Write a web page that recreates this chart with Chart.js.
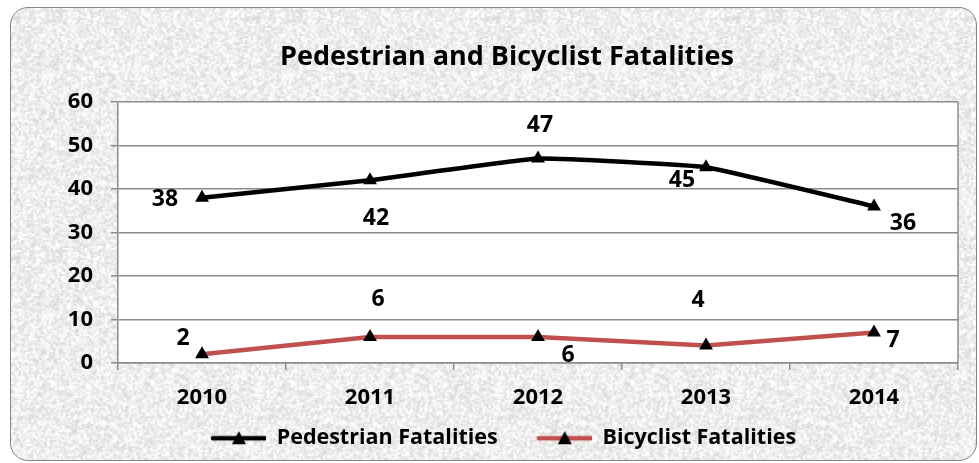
<!DOCTYPE html>
<html>
<head>
<meta charset="utf-8">
<script src="https://cdn.jsdelivr.net/npm/chart.js@4"></script>
<style>
  html, body { margin: 0; padding: 0; background: #fff; }
  #wrap { position: relative; width: 979px; height: 463px; overflow: hidden; }
  #frame { position: absolute; left: 10px; top: 7px; width: 965px; height: 452px;
           border: 1.5px solid #858585; border-radius: 18px; background-color: #e8e8e8; }
  #chart { position: absolute; left: 0; top: 0; }
</style>
</head>
<body>
<div id="wrap">
  <div id="frame"></div>
  <canvas id="chart" width="979" height="463"></canvas>
</div>
<script>
// values
var years = ['2010', '2011', '2012', '2013', '2014'];
var pedestrian = [38, 42, 47, 45, 36];
var bicyclist = [2, 6, 6, 4, 7];
var yTicks = [0, 10, 20, 30, 40, 50, 60];
var chartTitle = 'Pedestrian and Bicyclist Fatalities';

// label placement (pixels from the point), styling only
var pedOffsets = [[-37, 2], [6, 38], [2, -33], [-24, 13], [29, 17]];
var bicOffsets = [[-19, -16], [8, -37], [30, 19], [-8, -45], [19, 8]];

var FONT = '"Open Sans"';
var axisGrey = '#8c8c8c';

// granite-like texture for the frame (deterministic hash noise)
function hash(x, y) {
  var h = (x * 374761393 + y * 668265263) | 0;
  h = (h ^ (h >>> 13)) * 1274126177 | 0;
  return ((h ^ (h >>> 16)) >>> 0) / 4294967295;
}
function makeTexture() {
  var N = 120;
  var small = document.createElement('canvas');
  small.width = N; small.height = N;
  var sc = small.getContext('2d');
  var img = sc.createImageData(N, N);
  for (var y = 0; y < N; y++) {
    for (var x = 0; x < N; x++) {
      var v = 210 + hash(x, y) * 44;
      var i = (y * N + x) * 4;
      img.data[i] = img.data[i + 1] = img.data[i + 2] = v;
      img.data[i + 3] = 255;
    }
  }
  sc.putImageData(img, 0, 0);
  var M = N * 2;
  var big = document.createElement('canvas');
  big.width = M; big.height = M;
  var bc = big.getContext('2d');
  bc.imageSmoothingEnabled = true;
  bc.drawImage(small, 0, 0, M, M);
  var img2 = bc.getImageData(0, 0, M, M);
  for (var yy = 0; yy < M; yy++) {
    for (var xx = 0; xx < M; xx++) {
      var j = (yy * M + xx) * 4;
      var n = (hash(xx + 1000, yy + 777) - 0.5) * 16;
      var c = Math.min(255, img2.data[j] + n + 6);
      img2.data[j] = img2.data[j + 1] = img2.data[j + 2] = c;
    }
  }
  bc.putImageData(img2, 0, 0);
  return big.toDataURL();
}
document.getElementById('frame').style.backgroundImage = 'url(' + makeTexture() + ')';

// legend swatch: blank on the left acts as the gap between items
function legendIcon(color) {
  var c = document.createElement('canvas');
  c.width = 86; c.height = 18;
  var g = c.getContext('2d');
  g.strokeStyle = color;
  g.lineWidth = 4.5;
  g.lineCap = 'round';
  g.beginPath(); g.moveTo(33, 9); g.lineTo(85, 9); g.stroke();
  g.fillStyle = '#000';
  g.beginPath(); g.moveTo(59, 2); g.lineTo(66, 15); g.lineTo(52, 15); g.closePath(); g.fill();
  return c;
}

var decorPlugin = {
  id: 'decor',
  beforeDraw: function (chart) {
    var a = chart.chartArea, ctx = chart.ctx;
    ctx.save();
    ctx.fillStyle = '#fff';
    ctx.fillRect(a.left, a.top, a.right - a.left, a.bottom - a.top);
    ctx.restore();
  },
  afterDraw: function (chart) {
    var a = chart.chartArea, ctx = chart.ctx;
    ctx.save();
    ctx.strokeStyle = axisGrey;
    ctx.lineWidth = 1.5;
    ctx.beginPath(); ctx.moveTo(a.right, a.top); ctx.lineTo(a.right, a.bottom); ctx.stroke();
    ctx.fillStyle = '#000';
    ctx.textAlign = 'center';
    ctx.textBaseline = 'middle';
    ctx.font = 'bold 27px ' + FONT;
    ctx.fillText(chartTitle, 507, 57);
    ctx.font = 'bold 23px ' + FONT;
    chart.data.datasets.forEach(function (ds, di) {
      var meta = chart.getDatasetMeta(di);
      meta.data.forEach(function (pt, i) {
        var off = ds.labelOffsets[i];
        ctx.fillText(String(ds.data[i]), pt.x + off[0], pt.y + off[1]);
      });
    });
    ctx.restore();
  }
};

new Chart(document.getElementById('chart'), {
  type: 'line',
  data: {
    labels: years,
    datasets: [{
      label: 'Pedestrian Fatalities',
      data: pedestrian,
      labelOffsets: pedOffsets,
      borderColor: '#000000',
      borderWidth: 4.5,
      tension: 0.1,
      pointStyle: 'triangle',
      pointRadius: 8,
      pointBackgroundColor: '#000',
      pointBorderColor: '#000',
      pointBorderWidth: 0
    }, {
      label: 'Bicyclist Fatalities',
      data: bicyclist,
      labelOffsets: bicOffsets,
      borderColor: '#c0504d',
      borderWidth: 4.5,
      tension: 0,
      pointStyle: 'triangle',
      pointRadius: 8,
      pointBackgroundColor: '#000',
      pointBorderColor: '#000',
      pointBorderWidth: 0
    }]
  },
  options: {
    responsive: false,
    animation: false,
    events: [],
    layout: { padding: { top: 102, right: 21, bottom: 4, left: 18 } },
    scales: {
      x: {
        offset: true,
        grid: { drawOnChartArea: false, offset: true, color: axisGrey, tickLength: 7, lineWidth: 1.5 },
        border: { color: axisGrey, width: 1.5 },
        ticks: { color: '#000', font: { family: FONT, weight: 'bold', size: 22 }, padding: 15 },
        afterFit: function (s) {
          var lg = s.chart.legend && s.chart.legend.height ? s.chart.legend.height : 40;
          s.height = 463 - 363 - 4 - lg;
        }
      },
      y: {
        min: 0, max: 60,
        afterBuildTicks: function (s) { s.ticks = yTicks.map(function (v) { return { value: v }; }); },
        grid: { color: axisGrey, tickLength: 7, lineWidth: 1.5 },
        border: { color: axisGrey, width: 1.5 },
        ticks: { color: '#000', font: { family: FONT, weight: 'bold', size: 22 }, padding: 18 },
        afterFit: function (s) { s.width = 100; }
      }
    },
    plugins: {
      title: { display: false },
      tooltip: { enabled: false },
      legend: {
        position: 'bottom',
        labels: {
          color: '#000',
          font: { family: FONT, weight: 'bold', size: 21.5 },
          usePointStyle: true,
          pointStyleWidth: 86,
          padding: 8,
          generateLabels: function (chart) {
            return chart.data.datasets.map(function (ds, i) {
              return {
                text: ds.label,
                fontColor: '#000',
                pointStyle: legendIcon(ds.borderColor),
                datasetIndex: i,
                lineWidth: 0,
                strokeStyle: 'transparent',
                fillStyle: 'transparent'
              };
            });
          }
        }
      }
    }
  },
  plugins: [decorPlugin]
});
</script>
</body>
</html>
